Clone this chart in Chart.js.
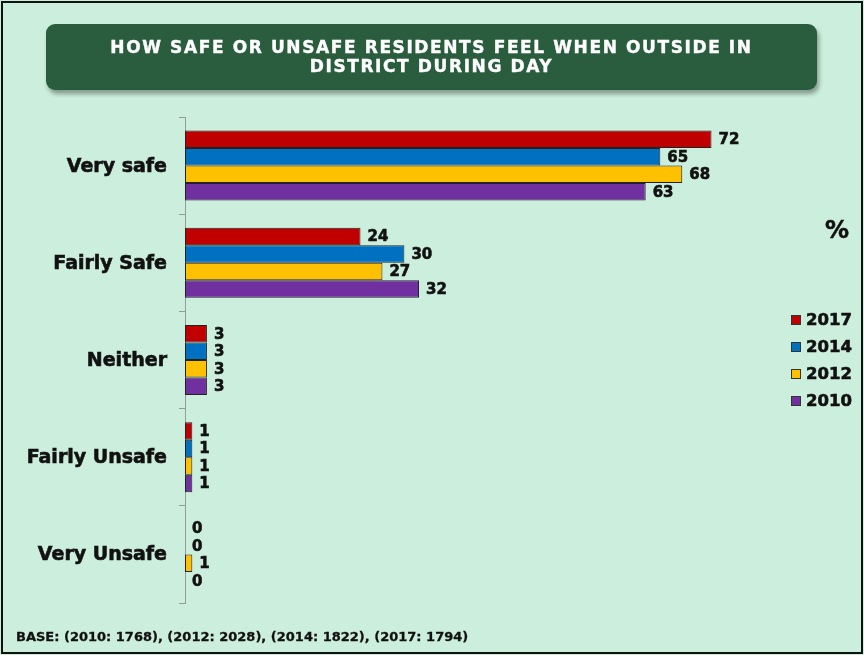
<!DOCTYPE html>
<html>
<head>
<meta charset="utf-8">
<script src="https://cdn.jsdelivr.net/npm/chart.js@4/dist/chart.umd.min.js"></script>
<style>
  html, body { margin: 0; padding: 0; }
  body { width: 864px; height: 655px; background: #cceedc; position: relative; overflow: hidden;
         font-family: "DejaVu Sans", Verdana, sans-serif; }
  #frame { position: absolute; left: 1px; top: 1px; width: 858px; height: 649px; border: 2px solid #111; }
  #title { position: absolute; left: 46px; top: 24px; width: 771px; height: 66px; background: #2a5d3e;
           border-radius: 9px; box-shadow: 2px 4px 4px rgba(0,0,0,0.35); color: #fff; font-weight: bold;
           font-size: 17px; letter-spacing: 1.6px; line-height: 19px; text-align: center; display: flex;
           align-items: center; justify-content: center; -webkit-text-stroke: 0.4px #fff; }
  #pct { position: absolute; left: 825px; top: 216px; font-weight: bold; font-size: 24px; color: #111;
         -webkit-text-stroke: 0.5px #111; }
  #base { position: absolute; left: 16px; top: 629px; font-weight: bold; font-size: 13px; color: #111;
          -webkit-text-stroke: 0.3px #111; }
  #wrap { position: absolute; left: 0; top: 0; width: 864px; height: 655px; }
</style>
</head>
<body>
<div id="wrap"><canvas id="c" width="864" height="655"></canvas></div>
<div id="frame"></div>
<div id="title"><div>HOW SAFE OR UNSAFE RESIDENTS FEEL WHEN OUTSIDE IN<br>DISTRICT DURING DAY</div></div>
<div id="pct">%</div>
<div id="base">BASE: (2010: 1768), (2012: 2028), (2014: 1822), (2017: 1794)</div>
<script>
// Response categories
const categories = ["Very safe", "Fairly Safe", "Neither", "Fairly Unsafe", "Very Unsafe"];
// Survey years, in plotting order
const years = ["2017", "2014", "2012", "2010"];
// Percentages per survey year
const values2017 = [72, 24, 3, 1, 0];
const values2014 = [65, 30, 3, 1, 0];
const values2012 = [68, 27, 3, 1, 1];
const values2010 = [63, 32, 3, 1, 0];

const seriesValues = [values2017, values2014, values2012, values2010];
const seriesColors = ["#c00000", "#0070c0", "#ffc000", "#7030a0"];

// Heavier bold text: fill plus a thin stroke of the same colour
function boldText(ctx, text, x, y, w) {
  ctx.lineWidth = w;
  ctx.strokeStyle = ctx.fillStyle;
  ctx.strokeText(text, x, y);
  ctx.fillText(text, x, y);
}

// Value labels at the end of each bar
const valueLabels = {
  id: "valueLabels",
  afterDatasetsDraw(chart) {
    const ctx = chart.ctx;
    ctx.save();
    ctx.font = "bold 15px 'DejaVu Sans'";
    ctx.fillStyle = "#111";
    ctx.textAlign = "left";
    ctx.textBaseline = "middle";
    chart.data.datasets.forEach((ds, i) => {
      const meta = chart.getDatasetMeta(i);
      meta.data.forEach((el, j) => {
        boldText(ctx, String(ds.data[j]), el.x + 7, el.y + 1, 0.6);
      });
    });
    ctx.restore();
  }
};

// Category labels, drawn with the same heavier weight
const categoryLabels = {
  id: "categoryLabels",
  afterDraw(chart) {
    const ctx = chart.ctx;
    const yScale = chart.scales.y;
    ctx.save();
    ctx.font = "bold 19px 'DejaVu Sans'";
    ctx.fillStyle = "#111";
    ctx.textAlign = "right";
    ctx.textBaseline = "middle";
    chart.data.labels.forEach((lab, i) => {
      boldText(ctx, lab, yScale.right - 18, yScale.getPixelForValue(i) + 1, 0.6);
    });
    ctx.restore();
  }
};

// Legend drawn at the right of the plot
const sideLegend = {
  id: "sideLegend",
  afterDraw(chart, args, opts) {
    const ctx = chart.ctx;
    ctx.save();
    ctx.font = "bold 16.5px 'DejaVu Sans'";
    ctx.textBaseline = "middle";
    ctx.textAlign = "left";
    chart.data.datasets.forEach((ds, i) => {
      const y = opts.y + i * opts.step;
      ctx.fillStyle = ds.backgroundColor;
      ctx.fillRect(opts.x, y - 5, 10, 10);
      ctx.strokeStyle = "#333";
      ctx.lineWidth = 1;
      ctx.strokeRect(opts.x + 0.5, y - 4.5, 9, 9);
      ctx.fillStyle = "#111";
      boldText(ctx, ds.label, opts.x + 15, y + 1, 0.6);
    });
    ctx.restore();
  }
};

new Chart(document.getElementById("c"), {
  type: "bar",
  data: {
    labels: categories,
    datasets: years.map((y, i) => ({
      label: y,
      data: seriesValues[i],
      backgroundColor: seriesColors[i],
      borderColor: "#222",
      borderWidth: 1,
      borderSkipped: false,
      categoryPercentage: 0.72,
      barPercentage: 1.0
    }))
  },
  options: {
    indexAxis: "y",
    responsive: false,
    animation: false,
    layout: { padding: { left: 0, right: 94, top: 117, bottom: 52 } },
    scales: {
      x: { display: false, min: 0, max: 80 },
      y: {
        afterFit(scale) { scale.width = 185; },
        grid: { drawOnChartArea: false, tickLength: 6, color: "#999", offset: true },
        border: { display: true, color: "#999", width: 1 },
        ticks: { display: false }
      }
    },
    plugins: {
      legend: { display: false },
      tooltip: { enabled: false },
      sideLegend: { x: 791, y: 320, step: 27 }
    }
  },
  plugins: [valueLabels, categoryLabels, sideLegend]
});
</script>
</body>
</html>
